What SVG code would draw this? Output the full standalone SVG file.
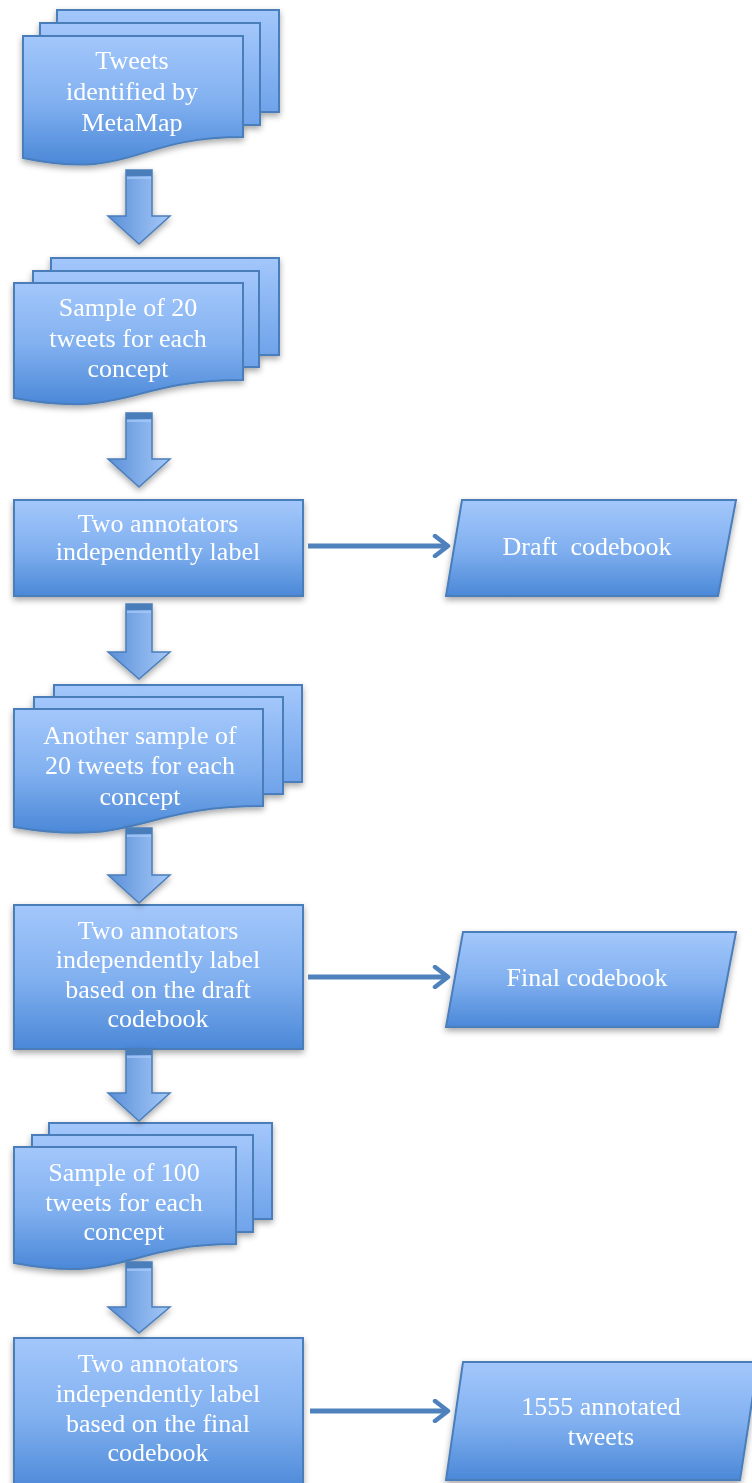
<svg xmlns="http://www.w3.org/2000/svg" width="752" height="1483" viewBox="0 0 752 1483">
<defs>
<linearGradient id="gFill" x1="0" y1="0" x2="0" y2="1">
<stop offset="0" stop-color="#a3c7fb"/>
<stop offset="0.5" stop-color="#82b1f0"/>
<stop offset="1" stop-color="#4b88d8"/>
</linearGradient>
<linearGradient id="gBack" x1="0" y1="0" x2="0" y2="1">
<stop offset="0" stop-color="#a3c7fb"/>
<stop offset="1" stop-color="#6fa3ea"/>
</linearGradient>
<linearGradient id="gArrow" x1="0" y1="0" x2="1" y2="0">
<stop offset="0" stop-color="#5a8fd8"/>
<stop offset="1" stop-color="#a6c9f8"/>
</linearGradient>
<filter id="sh" x="-10%" y="-10%" width="120%" height="130%">
<feDropShadow dx="0" dy="3" stdDeviation="3" flood-color="#000" flood-opacity="0.35"/>
</filter>
<marker id="chev" viewBox="0 0 20 24" refX="16" refY="12" markerWidth="20" markerHeight="24" markerUnits="userSpaceOnUse" orient="auto">
<path d="M3,2 L16,12 L3,22" fill="none" stroke="#4f81bd" stroke-width="4.5" stroke-linecap="round" stroke-linejoin="round"/>
</marker>
</defs>
<style>
.sheet{fill:url(#gFill);stroke:#4a7ebb;stroke-width:2}
.back{fill:url(#gBack);stroke:#4a7ebb;stroke-width:2}
.t{font-family:"Liberation Serif","Times New Roman",serif;font-size:26px;fill:#ffffff;text-anchor:middle;white-space:pre}
.shaft{fill:url(#gArrow);stroke:#4a7ebb;stroke-width:1.5}
.cap{fill:#4a7ebb}
.capline{stroke:#a6c9f8;stroke-width:1.5}
.conn{stroke:#4f81bd;stroke-width:5;fill:none}
</style>

<g id="node-tweets" filter="url(#sh)">
<rect class="back" x="57" y="10" width="222" height="102"/>
<rect class="back" x="40" y="23" width="220" height="102"/>
<path class="sheet" d="M23,36 H243 V137 C133,137 133,181 23,158 Z"/>
<text class="t" x="132" y="69">Tweets</text>
<text class="t" x="132" y="100">identified by</text>
<text class="t" x="132" y="131">MetaMap</text>
</g>

<g id="node-sample20" filter="url(#sh)">
<rect class="back" x="51" y="258" width="228" height="97"/>
<rect class="back" x="33" y="271" width="226" height="96"/>
<path class="sheet" d="M14,283 H243 V380 C128,380 128,419 14,398 Z"/>
<text class="t" x="128" y="316">Sample of 20</text>
<text class="t" x="128" y="347">tweets for each</text>
<text class="t" x="128" y="377">concept</text>
</g>

<g id="node-label1" filter="url(#sh)">
<rect class="sheet" x="14" y="500" width="289" height="96"/>
<text class="t" x="158" y="532">Two annotators</text>
<text class="t" x="158" y="560">independently label</text>
</g>

<g id="node-draft" filter="url(#sh)">
<path class="sheet" d="M462,500 L736,500 L718,596 L446,596 Z"/>
<text class="t" x="587" y="555" xml:space="preserve">Draft  codebook</text>
</g>

<g id="node-another" filter="url(#sh)">
<rect class="back" x="54" y="685" width="248" height="97"/>
<rect class="back" x="34" y="697" width="249" height="97"/>
<path class="sheet" d="M14,709 H263 V806 C138,806 138,848 14,827 Z"/>
<text class="t" x="140" y="744">Another sample of</text>
<text class="t" x="140" y="774">20 tweets for each</text>
<text class="t" x="140" y="805">concept</text>
</g>

<g id="node-label2" filter="url(#sh)">
<rect class="sheet" x="14" y="905" width="289" height="144"/>
<text class="t" x="158" y="939">Two annotators</text>
<text class="t" x="158" y="968">independently label</text>
<text class="t" x="158" y="998">based on the draft</text>
<text class="t" x="158" y="1027">codebook</text>
</g>

<g id="node-final" filter="url(#sh)">
<path class="sheet" d="M463,932 L736,932 L718,1027 L446,1027 Z"/>
<text class="t" x="587" y="986">Final codebook</text>
</g>

<g id="node-sample100" filter="url(#sh)">
<rect class="back" x="49" y="1123" width="223" height="96"/>
<rect class="back" x="32" y="1135" width="221" height="97"/>
<path class="sheet" d="M14,1147 H236 V1244 C125,1244 125,1284 14,1263 Z"/>
<text class="t" x="124" y="1181">Sample of 100</text>
<text class="t" x="124" y="1211">tweets for each</text>
<text class="t" x="124" y="1240">concept</text>
</g>

<g id="node-label3" filter="url(#sh)">
<rect class="sheet" x="14" y="1338" width="289" height="155"/>
<text class="t" x="158" y="1372">Two annotators</text>
<text class="t" x="158" y="1402">independently label</text>
<text class="t" x="158" y="1432">based on the final</text>
<text class="t" x="158" y="1461">codebook</text>
</g>

<g id="node-annotated" filter="url(#sh)">
<path class="sheet" d="M463,1362 L758,1362 L740,1480 L446,1480 Z"/>
<text class="t" x="601" y="1415">1555 annotated</text>
<text class="t" x="601" y="1445">tweets</text>
</g>

<g id="connectors">
<g filter="url(#sh)">
<path class="shaft" d="M126,170 H152 V216 H170 L139,244 L108,216 H126 Z"/>
<rect class="cap" x="126" y="170" width="26" height="6"/><line class="capline" x1="127" y1="178" x2="151" y2="178"/>
<path class="shaft" d="M126,413 H152 V459 H170 L139,487 L108,459 H126 Z"/>
<rect class="cap" x="126" y="413" width="26" height="6"/><line class="capline" x1="127" y1="421" x2="151" y2="421"/>
<path class="shaft" d="M126,604 H152 V652 H170 L139,679 L108,652 H126 Z"/>
<rect class="cap" x="126" y="604" width="26" height="6"/><line class="capline" x1="127" y1="612" x2="151" y2="612"/>
<path class="shaft" d="M126,828 H152 V875 H170 L139,903 L108,875 H126 Z"/>
<rect class="cap" x="126" y="828" width="26" height="6"/><line class="capline" x1="127" y1="836" x2="151" y2="836"/>
<path class="shaft" d="M126,1049 H152 V1093 H170 L139,1121 L108,1093 H126 Z"/>
<rect class="cap" x="126" y="1049" width="26" height="6"/><line class="capline" x1="127" y1="1057" x2="151" y2="1057"/>
<path class="shaft" d="M126,1262 H152 V1307 H170 L139,1333 L108,1307 H126 Z"/>
<rect class="cap" x="126" y="1262" width="26" height="6"/><line class="capline" x1="127" y1="1270" x2="151" y2="1270"/>
</g>
<line class="conn" x1="308" y1="546" x2="448" y2="546" marker-end="url(#chev)"/>
<line class="conn" x1="308" y1="977" x2="448" y2="977" marker-end="url(#chev)"/>
<line class="conn" x1="310" y1="1411" x2="448" y2="1411" marker-end="url(#chev)"/>
</g>
</svg>
